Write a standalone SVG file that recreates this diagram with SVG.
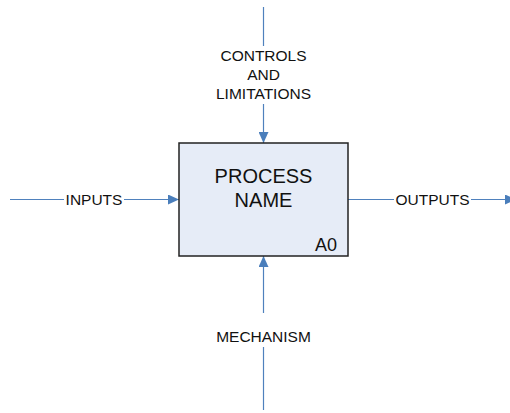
<svg xmlns="http://www.w3.org/2000/svg" width="510" height="413" viewBox="0 0 510 413">
<style>
.conn{fill:none;stroke:#4f81bd;stroke-width:1.2}
.lbl{font-family:"Liberation Sans",Arial,sans-serif;font-size:15.5px;fill:#111;text-anchor:middle}
.big{font-family:"Liberation Sans",Arial,sans-serif;font-size:20px;fill:#111;text-anchor:middle}
.box{fill:#e6ecf7;stroke:#222;stroke-width:1.5}
</style>
<defs>
<marker id="ah" markerUnits="userSpaceOnUse" markerWidth="11" markerHeight="10" refX="11" refY="5" orient="auto" viewBox="0 0 11 10">
<path d="M0,0 L11,5 L0,10 z" fill="#4a7ebb"/>
</marker>
</defs>
<g id="connectors">
<path class="conn" d="M263.5,7 V46"/>
<path class="conn" d="M263.5,104 V143" marker-end="url(#ah)"/>
<path class="conn" d="M263.5,410 V347"/>
<path class="conn" d="M263.5,313 V256" marker-end="url(#ah)"/>
<path class="conn" d="M10,199.5 H64"/>
<path class="conn" d="M124,199.5 H179" marker-end="url(#ah)"/>
<path class="conn" d="M348,199.5 H394"/>
<path class="conn" d="M471,199.5 H516" marker-end="url(#ah)"/>
</g>
<g id="labels">
<text class="lbl" x="263.5" y="61">CONTROLS</text>
<text class="lbl" x="263.5" y="80">AND</text>
<text class="lbl" x="263.5" y="99">LIMITATIONS</text>
<text class="lbl" x="94" y="205">INPUTS</text>
<text class="lbl" x="432.5" y="205">OUTPUTS</text>
<text class="lbl" x="263.5" y="341.5">MECHANISM</text>
</g>
<g id="process">
<rect class="box" x="179" y="143" width="169" height="113"/>
<text class="big" x="263.5" y="183">PROCESS</text>
<text class="big" x="263.5" y="207">NAME</text>
<text x="337" y="251" font-family="Liberation Sans,Arial,sans-serif" font-size="18" fill="#111" text-anchor="end">A0</text>
</g>
</svg>
